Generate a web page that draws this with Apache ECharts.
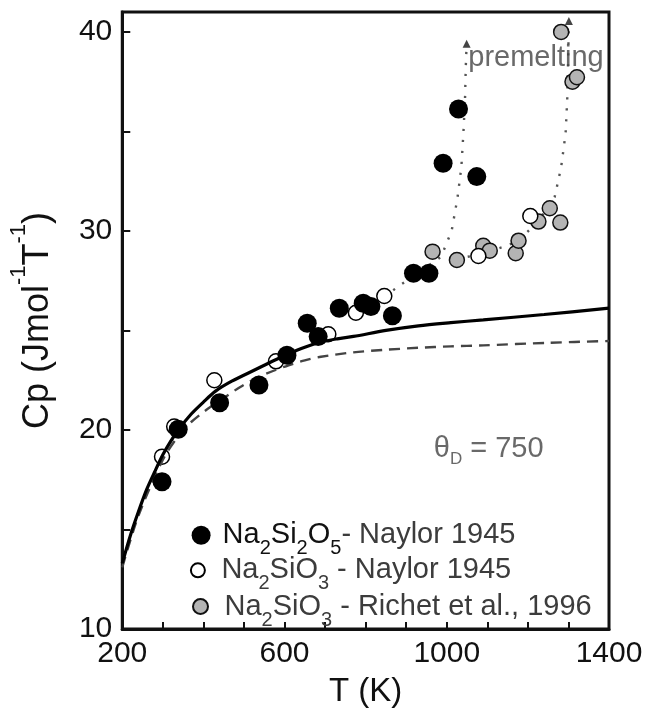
<!DOCTYPE html>
<html>
<head>
<meta charset="utf-8">
<script src="https://cdn.jsdelivr.net/npm/echarts@6/dist/echarts.min.js"></script>
<style>
  html, body { margin: 0; padding: 0; background: #fff; }
  #chart { width: 653px; height: 719px; }
</style>
</head>
<body>
<div id="chart"></div>
<script>
// [T (K), Cp (J/mol/K)]
const na2si2o5Naylor = [
  [298, 17.4], [338, 20.04], [440, 21.37], [537, 22.26], [606, 23.75],
  [656, 25.36], [683, 24.69], [735, 26.12], [794, 26.37], [813, 26.2],
  [866, 25.74], [918, 27.87], [956, 27.87], [991, 33.4], [1029, 36.13],
  [1074, 32.73]
];
const na2sio3Naylor = [
  [298, 18.66], [328, 20.17], [427, 22.5], [579, 23.45], [708, 24.81],
  [776, 25.89], [846, 26.73], [1078, 28.74], [1206, 30.75]
];
const na2sio3Richet = [
  [965, 28.96], [1025, 28.54], [1090, 29.25], [1106, 29.01], [1170, 28.88],
  [1177, 29.51], [1226, 30.47], [1254, 31.14], [1280, 30.42], [1282, 40.0],
  [1310, 37.5], [1321, 37.72]
];
// model curves (theta_D = 750)
const modelSolid = [
  [200, 13.3], [220, 14.7], [240, 15.9], [260, 17.0], [280, 17.9], [300, 18.75],
  [320, 19.45], [340, 20.05], [370, 20.8], [400, 21.4], [430, 21.95], [470, 22.45],
  [530, 23.05], [570, 23.45], [610, 23.82], [650, 24.15], [690, 24.42], [730, 24.58],
  [770, 24.7], [850, 25.0], [930, 25.23], [1010, 25.39], [1090, 25.53], [1240, 25.8],
  [1400, 26.12]
];
const modelDashed = [
  [200, 13.1], [240, 15.7], [300, 18.5], [340, 19.75], [370, 20.4], [410, 21.05],
  [450, 21.6], [490, 22.15], [530, 22.6], [570, 22.95], [610, 23.25], [650, 23.5],
  [690, 23.68], [770, 23.9], [850, 24.03], [930, 24.13], [1010, 24.2], [1090, 24.25],
  [1250, 24.38], [1400, 24.47]
];
// premelting guide lines, last point carries the arrow head
const premeltLeft = [
  [846, 26.7], [880, 27.2], [930, 27.9], [965, 28.4], [986, 28.7], [1002, 29.5],
  [1012, 30.0], [1026, 31.6], [1036, 33.2], [1041, 34.9], [1045, 36.6], [1047, 38.3],
  [1049, 39.4]
];
const premeltRight = [
  [1025, 28.6], [1078, 28.8], [1106, 29.0], [1140, 29.2], [1177, 29.5], [1206, 30.1],
  [1240, 30.9], [1266, 31.7], [1282, 33.2], [1293, 34.9], [1297, 36.6], [1299, 38.3],
  [1301, 40.55]
];
const xLabels = [200, 600, 1000, 1400];
const yLabels = [10, 20, 30, 40];
const premeltTextPos = [1053, 38.7];
const thetaTextPos = [968, 19.03];

const FONT = "'Liberation Sans', Arial, sans-serif";

const chart = echarts.init(document.getElementById('chart'));

function withArrow(list) {
  return list.map((p, i) => i === list.length - 1
    ? { value: p, symbol: 'triangle', symbolSize: 8 }
    : p);
}

const legendRich = {
  k: { fontFamily: FONT, fontSize: 29, color: '#111', lineHeight: 34, verticalAlign: 'middle' },
  n: { fontFamily: FONT, fontSize: 29, color: '#3c3c3c', lineHeight: 34, verticalAlign: 'middle' },
  s: { fontFamily: FONT, fontSize: 20, color: '#111', lineHeight: 20, padding: [27, 0, 0, 0], verticalAlign: 'middle' },
  g: { fontFamily: FONT, fontSize: 20, color: '#3c3c3c', lineHeight: 20, padding: [27, 0, 0, 0], verticalAlign: 'middle' }
};
const legendText = {
  na2si2o5: '{k|Na}{s|2}{k|Si}{s|2}{k|O}{s|5}{n|- Naylor 1945}',
  na2sio3: '{n|Na}{g|2}{n|SiO}{g|3}{n| - Naylor 1945}',
  richet: '{n|Na}{g|2}{n|SiO}{g|3}{n| - Richet et al., 1996}'
};

function legendRow(name, left, top, w, h) {
  return {
    data: [name],
    left: left,
    top: top,
    orient: 'vertical',
    itemWidth: w,
    itemHeight: h,
    selectedMode: false,
    formatter: n => legendText[n],
    textStyle: { rich: legendRich }
  };
}

const option = {
  animation: false,
  backgroundColor: '#fff',
  textStyle: { fontFamily: FONT },
  grid: {
    left: 109, right: 44, top: 12, bottom: 90,
    show: true, borderColor: '#111', borderWidth: 3, backgroundColor: 'transparent'
  },
  legend: [
    legendRow('na2si2o5', 186.6, 506.8, 33, 19),
    legendRow('na2sio3', 184.9, 541.8, 37, 14),
    legendRow('richet', 187, 578, 38, 15)
  ],
  xAxis: {
    type: 'value', min: 200, max: 1400, interval: 100,
    name: 'T (K)', nameLocation: 'middle', nameGap: 46,
    nameTextStyle: { fontFamily: FONT, fontSize: 33, color: '#111' },
    axisLine: { onZero: false, lineStyle: { color: '#111', width: 3 } },
    axisTick: { inside: true, length: 7, lineStyle: { color: '#111', width: 2 } },
    axisLabel: {
      margin: 10, fontFamily: FONT, fontSize: 30, color: '#111',
      formatter: v => xLabels.indexOf(v) >= 0 ? String(v) : ''
    },
    splitLine: { show: false }
  },
  yAxis: {
    type: 'value', min: 10, max: 41, interval: 5,
    name: '{a|Cp (Jmol}{b|-1}{a|T}{b|-1}{a|)}',
    nameLocation: 'middle', nameGap: 42, nameRotate: 90,
    nameTextStyle: {
      rich: {
        a: { fontFamily: FONT, fontSize: 36, color: '#111', lineHeight: 40, verticalAlign: 'middle' },
        b: { fontFamily: FONT, fontSize: 22, color: '#111', lineHeight: 22, padding: [0, 0, 38, 0], verticalAlign: 'middle' }
      }
    },
    axisLine: { onZero: false, lineStyle: { color: '#111', width: 3 } },
    axisTick: { inside: true, length: 8, lineStyle: { color: '#111', width: 2 } },
    axisLabel: {
      margin: 10, fontFamily: FONT, fontSize: 30, color: '#111',
      formatter: v => yLabels.indexOf(v) >= 0 ? String(v) : ''
    },
    splitLine: { show: false }
  },
  series: [
    {
      type: 'line', data: withArrow(premeltLeft), symbol: 'none', z: 2,
      lineStyle: { color: '#555', width: 2.4, type: [2.2, 8.8] },
      itemStyle: { color: '#444' }, silent: true
    },
    {
      type: 'line', data: withArrow(premeltRight), symbol: 'none', z: 2,
      lineStyle: { color: '#555', width: 2.4, type: [2.2, 8.8] },
      itemStyle: { color: '#444' }, silent: true
    },
    {
      name: 'richet', type: 'scatter', data: na2sio3Richet, symbol: 'circle', symbolSize: 15, z: 3,
      itemStyle: { color: '#b4b4b4', borderColor: '#111', borderWidth: 1.5, opacity: 1 }
    },
    {
      name: 'na2sio3', type: 'scatter', data: na2sio3Naylor, symbol: 'circle', symbolSize: 15, z: 4,
      itemStyle: { color: '#fff', borderColor: '#000', borderWidth: 1.5, opacity: 1 }
    },
    {
      type: 'line', data: modelDashed, symbol: 'none', smooth: 0.3, z: 5,
      lineStyle: { color: '#444', width: 2.4, type: [11, 7] }, silent: true
    },
    {
      type: 'line', data: modelSolid, symbol: 'none', smooth: 0.3, z: 5,
      lineStyle: { color: '#000', width: 3.2 }, silent: true
    },
    {
      name: 'na2si2o5', type: 'scatter', data: na2si2o5Naylor, symbol: 'circle', symbolSize: 19, z: 6,
      itemStyle: { color: '#000', opacity: 1 }
    },
    {
      type: 'scatter', data: [premeltTextPos], symbolSize: 0, z: 7, silent: true,
      label: {
        show: true, position: 'right', distance: 0,
        formatter: 'premelting', fontFamily: FONT, fontSize: 29, color: '#444'
      }
    },
    {
      type: 'scatter', data: [thetaTextPos], symbolSize: 0, z: 7, silent: true,
      label: {
        show: true, position: 'right', distance: 0,
        formatter: '{t|\u03b8}{d|D}{t| = 750}',
        rich: {
          t: { fontFamily: FONT, fontSize: 29, color: '#444', lineHeight: 34, verticalAlign: 'middle' },
          d: { fontFamily: FONT, fontSize: 17, color: '#444', lineHeight: 17, padding: [20, 0, 0, 0], verticalAlign: 'middle' }
        }
      }
    }
  ]
};

chart.setOption(option);
</script>
</body>
</html>
